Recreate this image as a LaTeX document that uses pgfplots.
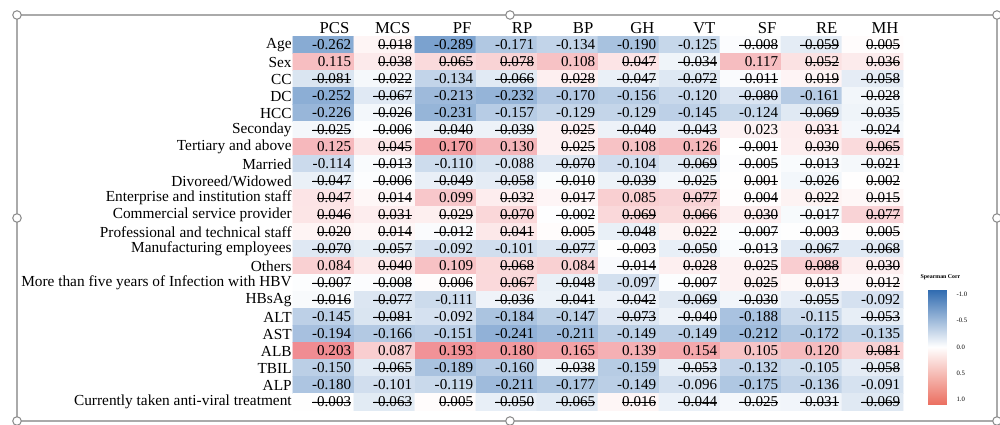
\documentclass[border=0pt]{standalone}
\usepackage{fontspec}
\setmainfont{Liberation Serif}
\usepackage{pgfplots}
\usepackage{pgfplotstable}
\pgfplotsset{compat=1.18}
\newcommand\ns[1]{\setbox0\hbox{#1}\rlap{\rule[0.3em]{\wd0}{0.5pt}}\box0}
\pgfplotsset{
  colormap={cells}{rgb255(0cm)=(50,110,180) rgb255(4.5cm)=(255,255,255) rgb255(7.1cm)=(236,108,115)},
  colormap={corrbar}{rgb255=(45,105,175) rgb255=(255,255,255) rgb255=(235,110,95)},
}
\pgfplotstableread[row sep=\\]{
x y c s \\
0 0 -0.262 0 \\ 1 0 0.018 1 \\ 2 0 -0.289 0 \\ 3 0 -0.171 0 \\ 4 0 -0.134 0 \\ 5 0 -0.190 0 \\ 6 0 -0.125 0 \\ 7 0 -0.008 1 \\ 8 0 -0.059 1 \\ 9 0 0.005 1 \\
0 1 0.115 0 \\ 1 1 0.038 1 \\ 2 1 0.065 1 \\ 3 1 0.078 1 \\ 4 1 0.108 0 \\ 5 1 0.047 1 \\ 6 1 -0.034 1 \\ 7 1 0.117 0 \\ 8 1 0.052 1 \\ 9 1 0.036 1 \\
0 2 -0.081 1 \\ 1 2 -0.022 1 \\ 2 2 -0.134 0 \\ 3 2 -0.066 1 \\ 4 2 0.028 1 \\ 5 2 -0.047 1 \\ 6 2 -0.072 1 \\ 7 2 -0.011 1 \\ 8 2 0.019 1 \\ 9 2 -0.058 1 \\
0 3 -0.252 0 \\ 1 3 -0.067 1 \\ 2 3 -0.213 0 \\ 3 3 -0.232 0 \\ 4 3 -0.170 0 \\ 5 3 -0.156 0 \\ 6 3 -0.120 0 \\ 7 3 -0.080 1 \\ 8 3 -0.161 0 \\ 9 3 -0.028 1 \\
0 4 -0.226 0 \\ 1 4 -0.026 1 \\ 2 4 -0.231 0 \\ 3 4 -0.157 0 \\ 4 4 -0.129 0 \\ 5 4 -0.129 0 \\ 6 4 -0.145 0 \\ 7 4 -0.124 0 \\ 8 4 -0.069 1 \\ 9 4 -0.035 1 \\
0 5 -0.025 1 \\ 1 5 -0.006 1 \\ 2 5 -0.040 1 \\ 3 5 -0.039 1 \\ 4 5 0.025 1 \\ 5 5 -0.040 1 \\ 6 5 -0.043 1 \\ 7 5 0.023 0 \\ 8 5 0.031 1 \\ 9 5 -0.024 1 \\
0 6 0.125 0 \\ 1 6 0.045 1 \\ 2 6 0.170 0 \\ 3 6 0.130 0 \\ 4 6 0.025 1 \\ 5 6 0.108 0 \\ 6 6 0.126 0 \\ 7 6 -0.001 1 \\ 8 6 0.030 1 \\ 9 6 0.065 1 \\
0 7 -0.114 0 \\ 1 7 -0.013 1 \\ 2 7 -0.110 0 \\ 3 7 -0.088 0 \\ 4 7 -0.070 1 \\ 5 7 -0.104 0 \\ 6 7 -0.069 1 \\ 7 7 -0.005 1 \\ 8 7 -0.013 1 \\ 9 7 -0.021 1 \\
0 8 -0.047 1 \\ 1 8 -0.006 1 \\ 2 8 -0.049 1 \\ 3 8 -0.058 1 \\ 4 8 -0.010 1 \\ 5 8 -0.039 1 \\ 6 8 -0.025 1 \\ 7 8 0.001 1 \\ 8 8 -0.026 1 \\ 9 8 0.002 1 \\
0 9 0.047 1 \\ 1 9 0.014 1 \\ 2 9 0.099 0 \\ 3 9 0.032 1 \\ 4 9 0.017 1 \\ 5 9 0.085 0 \\ 6 9 0.077 1 \\ 7 9 0.004 1 \\ 8 9 0.022 1 \\ 9 9 0.015 1 \\
0 10 0.046 1 \\ 1 10 0.031 1 \\ 2 10 0.029 1 \\ 3 10 0.070 1 \\ 4 10 -0.002 1 \\ 5 10 0.069 1 \\ 6 10 0.066 1 \\ 7 10 0.030 1 \\ 8 10 -0.017 1 \\ 9 10 0.077 1 \\
0 11 0.020 1 \\ 1 11 0.014 1 \\ 2 11 -0.012 1 \\ 3 11 0.041 1 \\ 4 11 0.005 1 \\ 5 11 -0.048 1 \\ 6 11 0.022 1 \\ 7 11 -0.007 1 \\ 8 11 -0.003 1 \\ 9 11 0.005 1 \\
0 12 -0.070 1 \\ 1 12 -0.057 1 \\ 2 12 -0.092 0 \\ 3 12 -0.101 0 \\ 4 12 -0.077 1 \\ 5 12 -0.003 1 \\ 6 12 -0.050 1 \\ 7 12 -0.013 1 \\ 8 12 -0.067 1 \\ 9 12 -0.068 1 \\
0 13 0.084 0 \\ 1 13 0.040 1 \\ 2 13 0.109 0 \\ 3 13 0.068 1 \\ 4 13 0.084 0 \\ 5 13 -0.014 1 \\ 6 13 0.028 1 \\ 7 13 0.025 1 \\ 8 13 0.088 1 \\ 9 13 0.030 1 \\
0 14 -0.007 1 \\ 1 14 -0.008 1 \\ 2 14 0.006 1 \\ 3 14 0.067 1 \\ 4 14 -0.048 1 \\ 5 14 -0.097 0 \\ 6 14 -0.007 1 \\ 7 14 0.025 1 \\ 8 14 0.013 1 \\ 9 14 0.012 1 \\
0 15 -0.016 1 \\ 1 15 -0.077 1 \\ 2 15 -0.111 0 \\ 3 15 -0.036 1 \\ 4 15 -0.041 1 \\ 5 15 -0.042 1 \\ 6 15 -0.069 1 \\ 7 15 -0.030 1 \\ 8 15 -0.055 1 \\ 9 15 -0.092 0 \\
0 16 -0.145 0 \\ 1 16 -0.081 1 \\ 2 16 -0.092 0 \\ 3 16 -0.184 0 \\ 4 16 -0.147 0 \\ 5 16 -0.073 1 \\ 6 16 -0.040 1 \\ 7 16 -0.188 0 \\ 8 16 -0.115 0 \\ 9 16 -0.053 1 \\
0 17 -0.194 0 \\ 1 17 -0.166 0 \\ 2 17 -0.151 0 \\ 3 17 -0.241 0 \\ 4 17 -0.211 0 \\ 5 17 -0.149 0 \\ 6 17 -0.149 0 \\ 7 17 -0.212 0 \\ 8 17 -0.172 0 \\ 9 17 -0.135 0 \\
0 18 0.203 0 \\ 1 18 0.087 0 \\ 2 18 0.193 0 \\ 3 18 0.180 0 \\ 4 18 0.165 0 \\ 5 18 0.139 0 \\ 6 18 0.154 0 \\ 7 18 0.105 0 \\ 8 18 0.120 0 \\ 9 18 0.081 1 \\
0 19 -0.150 0 \\ 1 19 -0.065 1 \\ 2 19 -0.189 0 \\ 3 19 -0.160 0 \\ 4 19 -0.038 1 \\ 5 19 -0.159 0 \\ 6 19 -0.053 1 \\ 7 19 -0.132 0 \\ 8 19 -0.105 0 \\ 9 19 -0.058 1 \\
0 20 -0.180 0 \\ 1 20 -0.101 0 \\ 2 20 -0.119 0 \\ 3 20 -0.211 0 \\ 4 20 -0.177 0 \\ 5 20 -0.149 0 \\ 6 20 -0.096 0 \\ 7 20 -0.175 0 \\ 8 20 -0.136 0 \\ 9 20 -0.091 0 \\
0 21 -0.003 1 \\ 1 21 -0.063 1 \\ 2 21 0.005 1 \\ 3 21 -0.050 1 \\ 4 21 -0.065 1 \\ 5 21 0.016 1 \\ 6 21 -0.044 1 \\ 7 21 -0.025 1 \\ 8 21 -0.031 1 \\ 9 21 -0.069 1 \\
}\corr
\newcommand\PX[1]{(#1-293)*0.75pt}
\newcommand\PY[1]{(410.5-#1)*0.75pt}
\begin{document}
\begin{tikzpicture}
\begin{axis}[name=main, at={(0pt,0pt)}, anchor=south west,
  scale only axis, width=457.5pt, height=280.5pt,
  xmin=-0.5, xmax=9.5, ymin=-0.5, ymax=21.5, y dir=reverse,
  enlargelimits=false, clip=false,
  axis line style={draw=none}, major tick length=0pt,
  xtick={0,...,9}, xticklabels={PCS,MCS,PF,RP,BP,GH,VT,SF,RE,MH},
  xticklabel pos=upper,
  xticklabel style={anchor=south east, xshift=20.6pt, yshift=1.2pt, inner sep=1pt, font=\fontsize{12.5}{13}\selectfont},
  ytick={0,...,21},
  yticklabels={Age,Sex,CC,DC,HCC,Seconday,Tertiary and above,Married,Divoreed/Widowed,Enterprise and institution staff,Commercial service provider,Professional and technical staff,Manufacturing employees,Others,More than five years of Infection with HBV,HBsAg,ALT,AST,ALB,TBIL,ALP,Currently taken anti-viral treatment},
  yticklabel style={anchor=east, inner sep=0.8pt, font=\fontsize{11.5}{12}\selectfont},
  colormap name=cells, point meta min=-0.45, point meta max=0.26,
  valnode/.style={only marks, mark=none, point meta=explicit,
    nodes near coords style={anchor=east, xshift=20.9pt, inner sep=0pt, font=\fontsize{11.3}{12}\selectfont,
      /pgf/number format/.cd, fixed, fixed zerofill, precision=3, assume math mode=true}},
]
\addplot[matrix plot*, mesh/cols=10, point meta=explicit] table[x=x, y=y, meta=c] {\corr};
\addplot[valnode, restrict expr to domain={\thisrow{s}}{-0.5:0.5},
  nodes near coords={\pgfmathprintnumber{\pgfplotspointmeta}}] table[x=x, y=y, meta=c] {\corr};
\addplot[valnode, restrict expr to domain={\thisrow{s}}{0.5:1.5},
  nodes near coords={\ns{\pgfmathprintnumber{\pgfplotspointmeta}}}] table[x=x, y=y, meta=c] {\corr};
\end{axis}
\begin{axis}[at={({\PX{928}},{\PY{289}})}, anchor=south west,
  hide axis, scale only axis, width=0pt, height=0pt,
  colormap name=corrbar, colorbar, point meta min=-1.1, point meta max=1.1,
  colorbar style={at={(0,0)}, anchor=north west, scale only axis, width=18.75pt, height=87pt,
    y dir=reverse, ytick={-1,-0.5,0,0.5,1}, major tick length=0pt,
    axis line style={draw=none},
    yticklabel style={font=\fontsize{5}{6}\selectfont, inner sep=2.5pt,
      /pgf/number format/.cd, fixed, fixed zerofill, precision=1, assume math mode=true},
    title={Spearman Corr}, title style={font=\bfseries\fontsize{4.4}{5}\selectfont, yshift=-2.5pt}},
]
\addplot[draw=none] coordinates {(0,0)};
\end{axis}
\draw[color={rgb,255:red,170;green,170;blue,170}, line width=1pt] ({\PX{17}},{\PY{15}}) rectangle ({\PX{997}},{\PY{421}});
\foreach \cx/\cy in {17/15, 510/15, 997/15, 17/218, 997/218, 17/421, 510/421, 997/421}
  \draw[color={rgb,255:red,140;green,140;blue,140}, fill=white, line width=0.8pt] ({\PX{\cx}},{\PY{\cy}}) circle (3.2pt);
\pgfresetboundingbox
\useasboundingbox ({\PX{0}},{\PY{0}}) rectangle ({\PX{1000}},{\PY{425}});
\end{tikzpicture}
\end{document}
